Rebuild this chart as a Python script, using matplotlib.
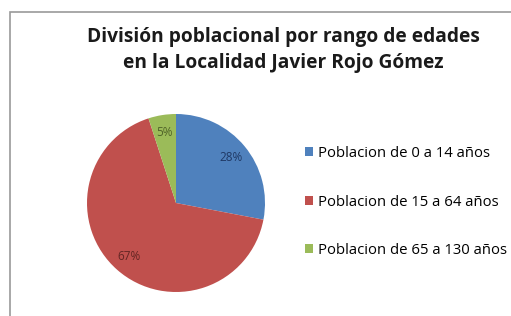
import matplotlib
matplotlib.use("Agg")
import matplotlib.pyplot as plt
import numpy as np

# data
title = "División poblacional por rango de edades\nen la Localidad Javier Rojo Gómez"
labels = ["Poblacion de 0 a 14 años", "Poblacion de 15 a 64 años", "Poblacion de 65 a 130 años"]
shares = [28, 67, 5]
colors = ["#4F81BD", "#C0504D", "#9BBB59"]
text_colors = ["#1F3864", "#632523", "#4F6228"]

plt.rcParams['font.family'] = ['Open Sans', 'DejaVu Sans']

fig = plt.figure(figsize=(5.11, 3.16), dpi=100)
W, H = 511, 316

# thin grey frame of the chart area
fig.add_artist(plt.Rectangle((10 / W, -0.05), 1.5, (H - 12) / H + 0.05,
                             transform=fig.transFigure, fill=False,
                             edgecolor="#9a9a9a", linewidth=1.2))

# pie axes: centre ~ (176, 203) px, radius ~ 89 px
cx, cy, r = 176, 203, 89
ax = fig.add_axes([(cx - r) / W, (H - cy - r) / H, 2 * r / W, 2 * r / H])
wedges, _, autotexts = ax.pie(shares, colors=colors, startangle=90, counterclock=False,
                              autopct="%d%%", pctdistance=0.8,
                              wedgeprops=dict(linewidth=0))
for t, c in zip(autotexts, text_colors):
    t.set_color(c)
    t.set_fontsize(8.5)
ax.set_aspect("equal")
ax.set_xlim(-1, 1)
ax.set_ylim(-1, 1)

fig.text(283 / W, 1 - 50 / H, title, ha="center", va="center",
         fontsize=13.8, fontweight="bold", color="#1a1a1a", linespacing=1.35)

# legend
ax.legend(wedges, labels, loc="center left",
          bbox_to_anchor=((305 - (cx - r)) / (2 * r), 0.5 - (202 - cy) / (2 * r)),
          bbox_transform=ax.transAxes, frameon=False, fontsize=10.7,
          handlelength=0.55, handleheight=0.55, handletextpad=0.3,
          labelspacing=2.25, borderaxespad=0, borderpad=0)

fig.savefig("out.png", dpi=100, facecolor="white")
